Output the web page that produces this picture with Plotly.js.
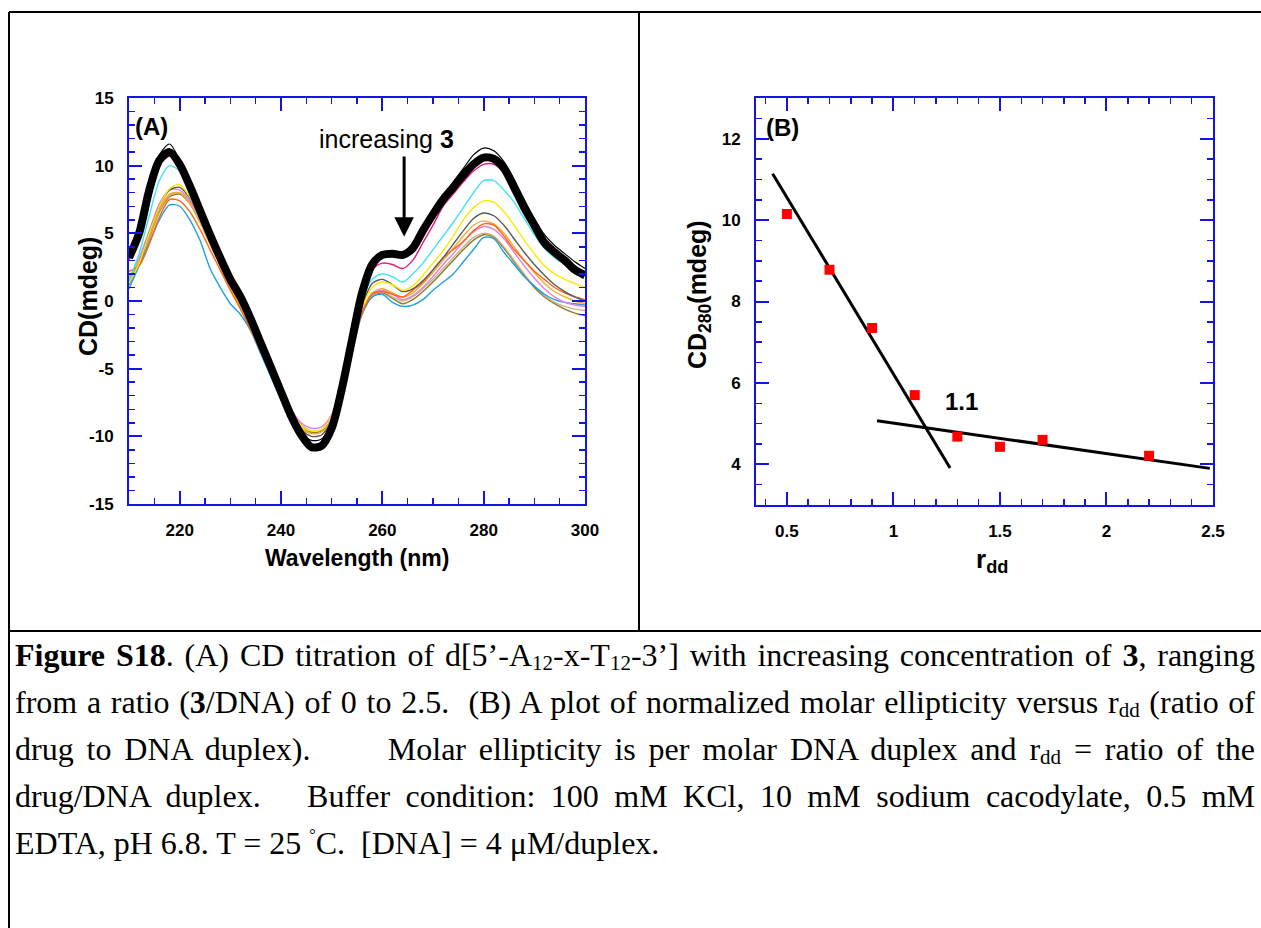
<!DOCTYPE html>
<html>
<head>
<meta charset="utf-8">
<script src="https://cdn.plot.ly/plotly-3.0.1.min.js"></script>
<style>
  html, body { margin: 0; padding: 0; background: #fff; }
  #wrap { position: relative; width: 1261px; height: 928px; overflow: hidden; }
  #chart { position: absolute; left: 0; top: 0; width: 1261px; height: 928px; }
  #caption { position: absolute; left: 15px; top: 632px; width: 1240px;
    font-family: "Liberation Serif", "Times New Roman", serif; font-size: 32px; color: #000; }
  #caption .ln { height: 47px; line-height: 47px; white-space: nowrap; overflow: visible;
    text-align: justify; text-align-last: justify; }
  #caption .ln.last { text-align: left; text-align-last: left; }
  #caption sub { font-size: 21px; vertical-align: -4px; line-height: 1; }
  #caption sup { font-size: 16px; position: relative; top: -14px; vertical-align: baseline; line-height: 1; }
</style>
</head>
<body>
<div id="wrap">
  <div id="chart"></div>
  <div id="caption">
    <div class="ln"><b>Figure S18</b>. (A) CD titration of d[5’-A<sub>12</sub>-x-T<sub>12</sub>-3’] with increasing concentration of <b>3</b>, ranging</div>
    <div class="ln">from a ratio (<b>3</b>/DNA) of 0 to 2.5.&nbsp; (B) A plot of normalized molar ellipticity versus r<sub>dd</sub> (ratio of</div>
    <div class="ln">drug to DNA duplex).&nbsp;&nbsp;&nbsp;&nbsp;&nbsp; Molar ellipticity is per molar DNA duplex and r<sub>dd</sub> = ratio of the</div>
    <div class="ln">drug/DNA duplex.&nbsp;&nbsp; Buffer condition: 100 mM KCl, 10 mM sodium cacodylate, 0.5 mM</div>
    <div class="ln last">EDTA, pH 6.8. T = 25 <sup>°</sup>C.&nbsp; [DNA] = 4 μM/duplex.</div>
  </div>
</div>
<script>
// ---------------- Panel A data: CD spectra (mdeg) vs wavelength (nm) ----------------
const wavelength = [210,212,214,216,218,220,222,224,226,228,230,232,234,236,238,240,242,244,246,248,
  250,252,254,256,258,260,262,264,266,268,270,272,274,276,278,280,282,284,286,288,290,292,294,296,298,300];

const cdThickBlack = [3.2,5.0,8.2,10.4,11.0,10.1,8.5,6.7,4.9,3.2,1.6,0.3,-1.3,-3.1,-4.9,-6.7,-8.5,-9.9,-10.8,-10.7,
  -9.4,-6.5,-2.9,0.6,2.7,3.4,3.5,3.4,3.9,5.2,6.4,7.5,8.4,9.3,10.1,10.6,10.5,9.8,8.4,6.9,5.6,4.3,3.6,3.0,2.3,1.9];
const cdThinBlack = [3.5,5.0,8.3,10.8,11.6,10.4,8.8,7.0,5.1,3.4,1.8,0.4,-1.2,-3.0,-4.8,-6.6,-8.3,-9.7,-10.3,-10.2,
  -9.0,-6.3,-2.7,0.8,2.8,3.3,3.3,3.2,3.8,5.2,6.5,7.7,8.8,9.8,10.8,11.3,11.1,10.3,9.0,7.5,6.1,4.9,4.1,3.5,2.9,2.4];
const cdPink = [3.0,5.0,7.9,10.2,10.7,10.0,8.5,6.7,4.9,3.2,1.6,0.2,-1.4,-3.2,-5.0,-6.8,-8.5,-9.8,-10.6,-10.5,
  -9.3,-6.5,-3.0,0.4,2.3,2.8,2.7,2.4,3.0,4.3,5.6,7.0,7.9,8.8,9.6,10.1,10.1,9.5,8.2,6.8,5.5,4.3,3.5,2.9,2.3,1.9];
const cdCyan = [1.5,3.5,6.3,8.9,10.0,9.6,8.3,6.5,4.7,3.0,1.4,0.0,-1.6,-3.3,-5.1,-6.9,-8.6,-9.9,-10.6,-10.5,
  -9.3,-6.6,-3.2,0.0,1.6,2.0,1.8,1.4,2.0,2.8,3.8,4.8,5.8,6.9,8.0,8.9,8.9,8.2,7.3,6.1,4.9,3.9,3.2,2.7,2.3,2.0];
const cdYellow = [1.3,2.8,5.0,7.0,8.3,8.6,7.7,6.2,4.5,2.8,1.2,-0.3,-1.8,-3.4,-5.1,-6.7,-8.2,-9.2,-9.6,-9.5,
  -8.5,-6.2,-3.2,-0.5,1.0,1.4,1.2,0.8,1.1,1.9,2.8,3.7,4.8,6.0,6.9,7.4,7.3,6.6,5.6,4.5,3.5,2.6,2.0,1.6,1.3,1.0];
const cdGray = [1.2,2.8,5.0,7.0,8.2,8.4,7.6,6.2,4.5,2.9,1.3,-0.2,-1.7,-3.3,-5.0,-6.7,-8.3,-9.5,-10.0,-9.9,
  -8.8,-6.3,-3.2,-0.4,1.3,1.6,1.2,0.7,0.9,1.5,2.3,3.2,4.2,5.2,6.1,6.5,6.3,5.6,4.6,3.6,2.7,1.9,1.2,0.7,0.3,0.0];
const cdOrange = [2.2,2.6,4.2,6.2,7.5,7.4,6.6,5.3,3.8,2.3,0.8,-0.6,-2.1,-3.7,-5.3,-7.0,-8.6,-9.9,-10.8,-10.8,
  -9.6,-6.9,-3.5,-0.9,0.5,0.7,0.5,0.3,0.8,1.4,2.3,3.2,3.8,4.4,5.2,5.7,5.6,4.8,3.8,3.0,2.2,1.6,1.0,0.6,0.3,0.1];
const cdLightOrange = [1.8,3.0,4.8,6.8,7.9,8.0,7.2,5.8,4.2,2.6,1.0,-0.5,-2.0,-3.5,-5.2,-6.8,-8.3,-9.4,-9.8,-9.7,
  -8.7,-6.4,-3.4,-0.8,0.6,0.9,0.6,0.3,0.6,1.3,2.1,3.0,3.9,4.8,5.6,5.9,5.7,5.0,4.0,3.0,2.1,1.3,0.7,0.3,0.0,-0.2];
const cdViolet = [1.6,3.2,5.2,7.2,8.2,8.2,7.4,6.0,4.4,2.8,1.2,-0.3,-1.8,-3.3,-4.9,-6.5,-8.0,-9.0,-9.4,-9.3,
  -8.4,-6.2,-3.3,-0.8,0.5,0.8,0.5,0.1,0.4,1.0,1.8,2.7,3.5,4.4,5.1,5.5,5.3,4.6,3.6,2.6,1.7,0.9,0.3,-0.1,-0.3,-0.4];
const cdBlue = [0.9,2.6,4.3,6.0,7.1,7.0,6.0,4.5,2.4,1.0,-0.2,-1.0,-2.2,-3.9,-5.6,-7.3,-8.9,-10.0,-10.6,-10.5,
  -9.4,-7.0,-3.8,-1.0,0.3,0.5,-0.1,-0.4,-0.3,0.1,0.8,1.4,2.0,2.9,3.8,4.7,4.6,3.6,2.7,1.8,1.1,0.5,0.1,-0.1,-0.2,-0.3];
const cdOlive = [1.5,2.8,4.6,6.6,7.7,7.9,7.2,5.9,4.3,2.7,1.1,-0.4,-1.9,-3.4,-5.0,-6.6,-8.1,-9.2,-9.7,-9.6,
  -8.6,-6.3,-3.4,-0.9,0.3,0.6,0.2,-0.2,0.1,0.7,1.4,2.2,3.0,3.8,4.5,4.9,4.7,3.9,2.9,1.9,1.0,0.3,-0.2,-0.6,-0.9,-1.1];
const cdTan = [1.4,2.7,4.7,6.7,7.8,8.0,7.3,6.0,4.4,2.8,1.2,-0.3,-1.8,-3.3,-4.9,-6.5,-8.0,-9.1,-9.6,-9.5,
  -8.5,-6.2,-3.3,-0.8,0.4,0.7,0.3,0.0,0.3,0.9,1.6,2.4,3.2,4.0,4.7,5.0,4.8,4.0,3.0,2.0,1.1,0.4,-0.1,-0.4,-0.6,-0.7];

const thinSeries = [
  {name: 'olive', y: cdOlive, color: '#8a7a2a'},
  {name: 'tan', y: cdTan, color: '#d0b080'},
  {name: 'blue', y: cdBlue, color: '#1ea0e6'},
  {name: 'violet', y: cdViolet, color: '#e080e0'},
  {name: 'light orange', y: cdLightOrange, color: '#f5a830'},
  {name: 'orange', y: cdOrange, color: '#ff6410'},
  {name: 'gray', y: cdGray, color: '#5a5a5a'},
  {name: 'yellow', y: cdYellow, color: '#ffe800'},
  {name: 'cyan', y: cdCyan, color: '#40e0f8'},
  {name: 'pink', y: cdPink, color: '#e8187c'}
];

const yTickValsA = [-15,-10,-5,0,5,10,15];
const yTickTextA = ['-15','-10','-5','0','5','10','15'];
const xTickValsA = [220,240,260,280,300];
const xTickTextA = ['220','240','260','280','300'];

// ---------------- Panel B data: CD280 vs r_dd ----------------
const rdd = [0.5,0.7,0.9,1.1,1.3,1.5,1.7,2.2];
const cd280 = [10.15,8.78,7.35,5.70,4.68,4.43,4.60,4.21];
const fit1X = [0.433,1.266];
const fit1Y = [11.14,3.91];
const fit2X = [0.923,2.485];
const fit2Y = [5.07,3.90];

// ---------------- build ----------------
const W = 1261, H = 928;
const px = v => v / W;
const py = v => 1 - v / H;

const axisBlue = '#1414e6';
const tickFont = {family: 'Liberation Sans, Arial, sans-serif', size: 17, color: '#000', weight: 'bold'};

const traces = [];
thinSeries.forEach(s => {
  traces.push({x: wavelength, y: s.y, type: 'scatter', mode: 'lines', name: s.name,
    line: {color: s.color, width: 1.4, shape: 'spline', smoothing: 0.8}, xaxis: 'x', yaxis: 'y', showlegend: false});
});
traces.push({x: wavelength, y: cdThickBlack, type: 'scatter', mode: 'lines', name: 'titration (bulk)',
  line: {color: '#000', width: 8, shape: 'spline', smoothing: 0.8}, xaxis: 'x', yaxis: 'y', showlegend: false});
traces.push({x: wavelength, y: cdThinBlack, type: 'scatter', mode: 'lines', name: 'DNA',
  line: {color: '#000', width: 1.2, shape: 'spline', smoothing: 0.8}, xaxis: 'x', yaxis: 'y', showlegend: false});

traces.push({x: fit1X, y: fit1Y, type: 'scatter', mode: 'lines', line: {color: '#000', width: 3},
  xaxis: 'x2', yaxis: 'y2', showlegend: false});
traces.push({x: fit2X, y: fit2Y, type: 'scatter', mode: 'lines', line: {color: '#000', width: 3},
  xaxis: 'x2', yaxis: 'y2', showlegend: false});
traces.push({x: rdd, y: cd280, type: 'scatter', mode: 'markers',
  marker: {symbol: 'square', size: 10, color: '#ff0000', line: {width: 0}},
  xaxis: 'x2', yaxis: 'y2', showlegend: false});

function axisBase(extra) {
  return Object.assign({
    showline: true, linecolor: axisBlue, linewidth: 2, mirror: 'ticks',
    ticks: 'inside', ticklen: 13, tickwidth: 2, tickcolor: axisBlue,
    showgrid: false, zeroline: false, tickfont: tickFont, ticklabelstandoff: 10, fixedrange: true
  }, extra);
}
function minor(d) {
  return {ticks: 'inside', ticklen: 6, tickwidth: 1.5, tickcolor: axisBlue, dtick: d, tick0: 0, showgrid: false};
}

const ann = (x, y, text, size, opts) => Object.assign({
  xref: 'paper', yref: 'paper', x: px(x), y: py(y), text: text, showarrow: false,
  xanchor: 'center', yanchor: 'middle',
  font: {family: 'Liberation Sans, Arial, sans-serif', size: size, color: '#000', weight: 'bold'}
}, opts || {});

const line = (x0, y0, x1, y1) => ({type: 'line', xref: 'paper', yref: 'paper',
  x0: px(x0), y0: py(y0), x1: px(x1), y1: py(y1), line: {color: '#000', width: 2}});

const layout = {
  width: W, height: H,
  margin: {l: 0, r: 0, t: 0, b: 0},
  paper_bgcolor: '#fff', plot_bgcolor: 'rgba(0,0,0,0)',
  font: {family: 'Liberation Sans, Arial, sans-serif'},
  showlegend: false,
  xaxis: axisBase({domain: [px(129), px(585)], range: [210, 300], anchor: 'y',
    tickmode: 'array', tickvals: xTickValsA, ticktext: xTickTextA, minor: minor(5)}),
  yaxis: axisBase({domain: [py(504), py(98)], range: [-15, 15], anchor: 'x',
    tickmode: 'array', tickvals: yTickValsA, ticktext: yTickTextA, minor: minor(1)}),
  xaxis2: axisBase({domain: [px(756), px(1213)], range: [0.355, 2.5], anchor: 'y2',
    tick0: 0.5, dtick: 0.5, minor: minor(0.1)}),
  yaxis2: axisBase({domain: [py(505), py(98)], range: [3, 13], anchor: 'x2',
    tick0: 0, dtick: 2, minor: minor(0.5)}),
  annotations: [
    ann(151, 126, '(A)', 24),
    ann(386, 139, 'increasing <b>3</b>', 25, {font: {family: 'Liberation Sans, Arial, sans-serif', size: 25, color: '#000'}}),
    {xref: 'x', yref: 'y', axref: 'x', ayref: 'y', x: 264.3, y: 4.75, ax: 264.3, ay: 10.79,
      text: '', showarrow: true, arrowhead: 2, arrowsize: 1.3, arrowwidth: 3, arrowcolor: '#000', standoff: 0},
    ann(88, 297, 'CD(mdeg)', 25, {textangle: -90}),
    ann(357, 558, 'Wavelength (nm)', 23),
    ann(782, 127, '(B)', 24),
    ann(961, 401, '1.1', 24),
    ann(699, 295, 'CD<sub>280</sub>(mdeg)', 25, {textangle: -90}),
    ann(992, 560, 'r<sub>dd</sub>', 26)
  ],
  shapes: [
    line(9, 12, 1261, 12),
    line(9, 12, 9, 928),
    line(639, 12, 639, 631),
    line(9, 631, 1261, 631)
  ]
};

Plotly.newPlot('chart', traces, layout, {displayModeBar: false, staticPlot: true});
</script>
</body>
</html>
